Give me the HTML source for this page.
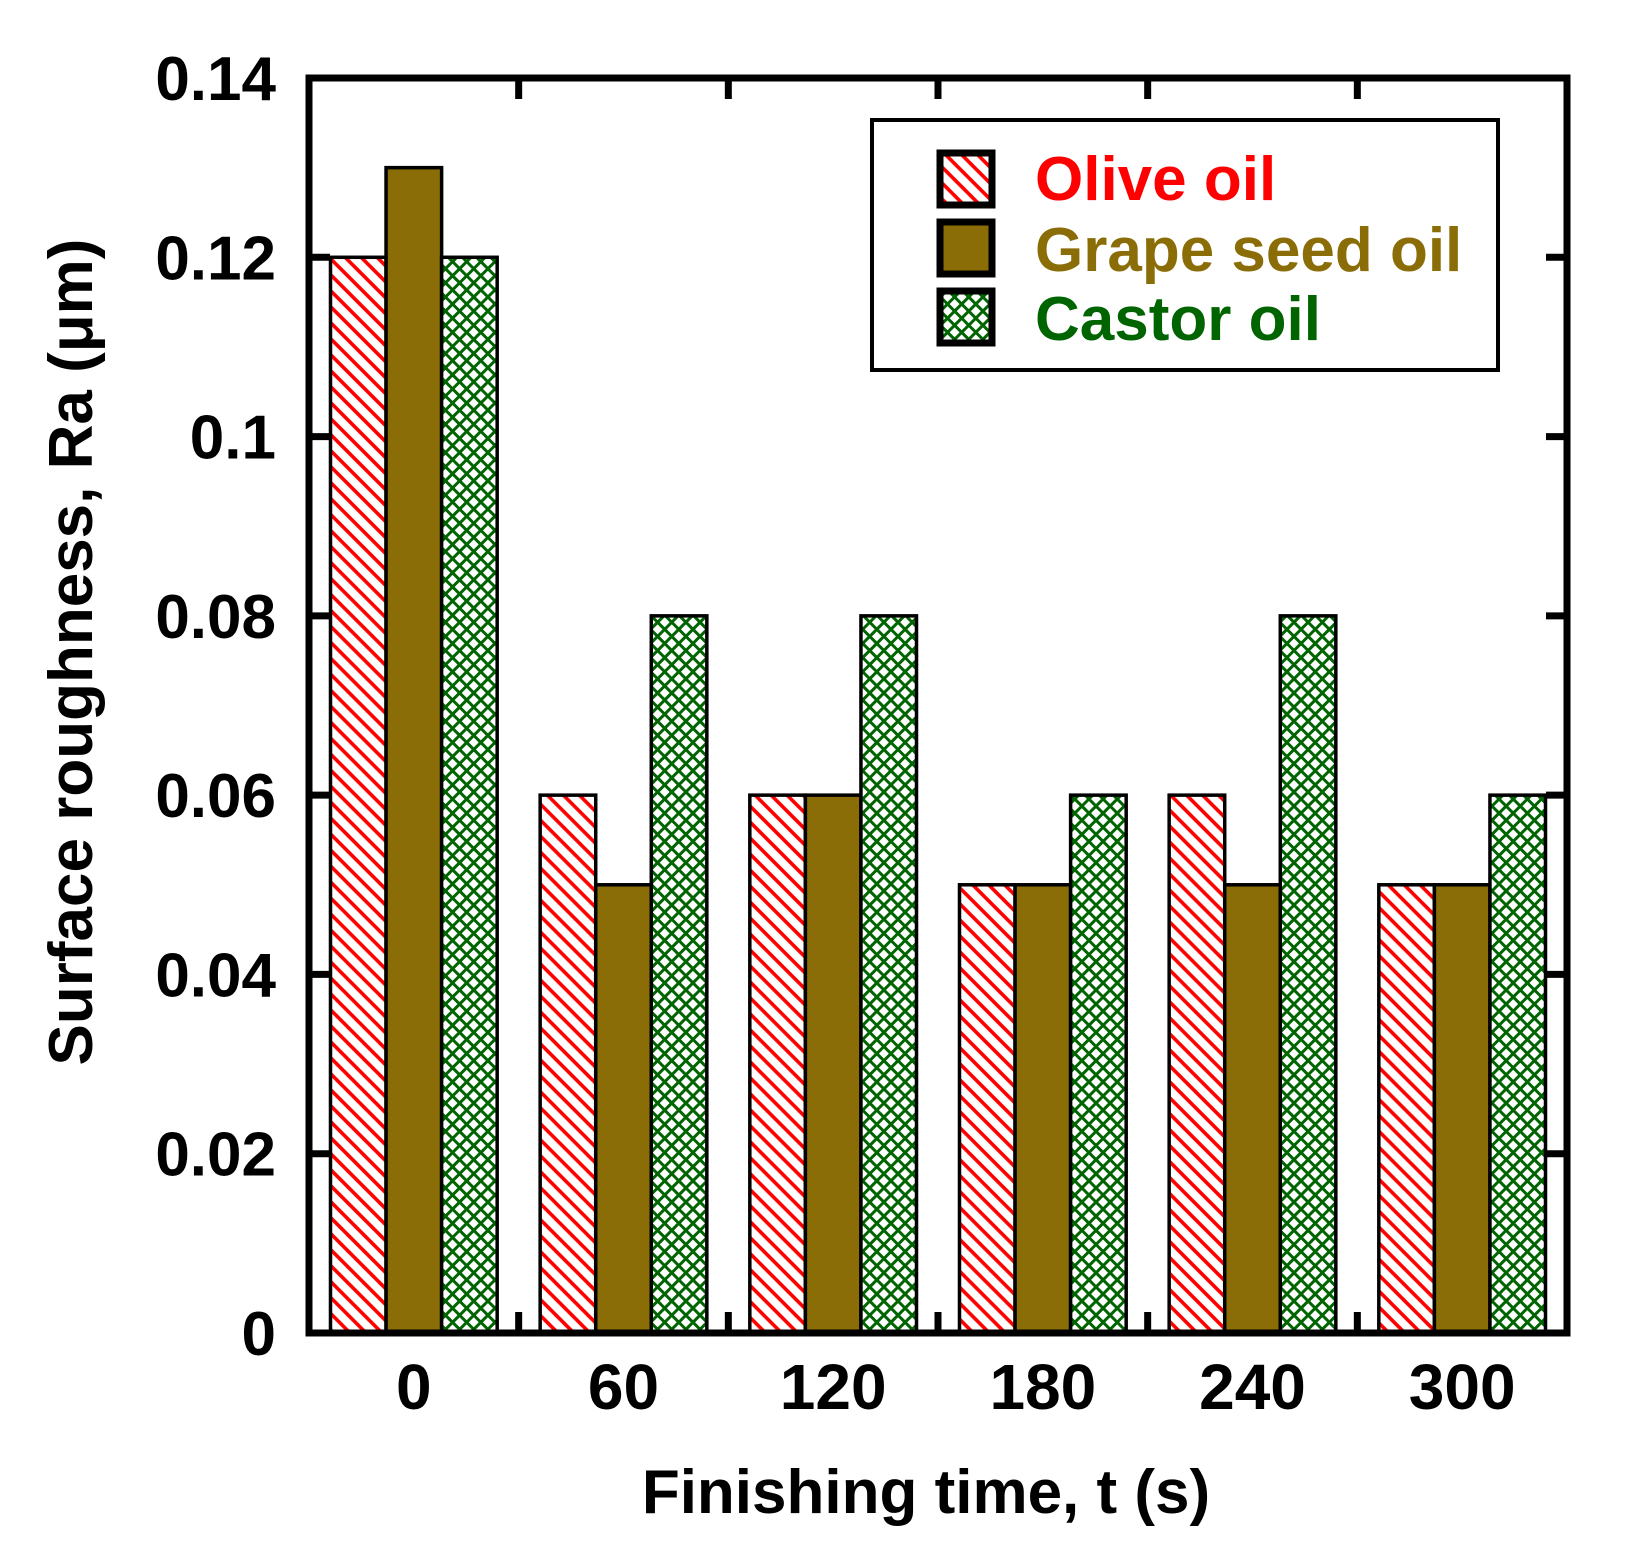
<!DOCTYPE html>
<html><head><meta charset="utf-8"><style>
html,body{margin:0;padding:0;background:#fff}
svg{display:block}
text{font-family:"Liberation Sans",Arial,sans-serif;font-weight:bold}
</style></head>
<body>
<svg id="chart" width="1630" height="1542" viewBox="0 0 1630 1542" xmlns="http://www.w3.org/2000/svg">
<defs>
<pattern id="pRed" patternUnits="userSpaceOnUse" width="11.3" height="11.3" patternTransform="rotate(-45)">
<rect width="11.3" height="11.3" fill="#fff"/>
<line x1="5.6" y1="0" x2="5.6" y2="11.3" stroke="#ff0000" stroke-width="3.6"/>
</pattern>
<pattern id="pGreen" patternUnits="userSpaceOnUse" width="10" height="10" patternTransform="rotate(45)">
<rect width="10" height="10" fill="#fff"/>
<line x1="5" y1="0" x2="5" y2="10" stroke="#006400" stroke-width="3"/>
<line x1="0" y1="5" x2="10" y2="5" stroke="#006400" stroke-width="3"/>
</pattern>
</defs>
<g id="bars"></g>
<g id="axes"></g>
<g id="legend">
<rect x="872" y="120" width="626" height="250" fill="#fff" stroke="#000" stroke-width="4"/>
<rect x="940" y="153" width="52" height="52" fill="url(#pRed)" stroke="#000" stroke-width="7"/>
<rect x="940" y="222" width="52" height="52" fill="#8a6d06" stroke="#000" stroke-width="7"/>
<rect x="940" y="291" width="52" height="52" fill="url(#pGreen)" stroke="#000" stroke-width="7"/>
<text x="1035" y="200" font-size="62" fill="#ff0000">Olive oil</text>
<text x="1035" y="271" font-size="62" fill="#8a6d06">Grape seed oil</text>
<text x="1035" y="340" font-size="62" fill="#006400">Castor oil</text>
</g>
<text x="926" y="1513" font-size="62" text-anchor="middle">Finishing time, t (s)</text>
<text transform="translate(92,652) rotate(-90)" font-size="62" text-anchor="middle">Surface roughness, Ra (μm)</text>
</svg>
<script>
const categories = ["0","60","120","180","240","300"];
const olive = [0.12, 0.06, 0.06, 0.05, 0.06, 0.05];
const grape = [0.13, 0.05, 0.06, 0.05, 0.05, 0.05];
const castor = [0.12, 0.08, 0.08, 0.06, 0.08, 0.06];
const yTicks = [0, 0.02, 0.04, 0.06, 0.08, 0.1, 0.12, 0.14];
const yTickLabels = ["0","0.02","0.04","0.06","0.08","0.1","0.12","0.14"];

const NS = "http://www.w3.org/2000/svg";
const L = 309, R = 1567, T = 78, B = 1333, YMAX = 0.14;
const catW = (R - L) / categories.length;
const barW = catW * 0.265;
function y(v){ return B - v / YMAX * (B - T); }
function xc(i){ return L + (i + 0.5) * catW; }
function mk(tag, attrs, parent){ const e = document.createElementNS(NS, tag); for (const k in attrs) e.setAttribute(k, attrs[k]); parent.appendChild(e); return e; }

const bars = document.getElementById('bars');
const series = [[olive, 'url(#pRed)', 'olive'], [grape, '#8a6d06', 'grape'], [castor, 'url(#pGreen)', 'castor']];
categories.forEach((c, i) => {
  series.forEach((s, j) => {
    const x0 = xc(i) + (j - 1.5) * barW;
    const r = mk('rect', {x: x0, y: y(s[0][i]), width: barW, height: B - y(s[0][i]), fill: s[1], stroke: '#000', 'stroke-width': 3.5}, bars);
    
    
  });
});

const axes = document.getElementById('axes');
const frame = mk('rect', {x: L, y: T, width: R - L, height: B - T, fill: 'none', stroke: '#000', 'stroke-width': 7}, axes);


yTicks.forEach((v, k) => {
  const yy = y(v);
  const t1 = mk('line', {x1: L, x2: L + 21, y1: yy, y2: yy, stroke: '#000', 'stroke-width': 7}, axes);
  
  
  const t2 = mk('line', {x1: R - 21, x2: R, y1: yy, y2: yy, stroke: '#000', 'stroke-width': 7}, axes);
  
  
  const lb = mk('text', {x: 276, y: yy + 22, 'font-size': 62, 'text-anchor': 'end'}, axes);
  lb.textContent = yTickLabels[k];
  
  
});
for (let i = 1; i < categories.length; i++) {
  const xx = L + i * catW;
  const t1 = mk('line', {x1: xx, x2: xx, y1: B, y2: B - 21, stroke: '#000', 'stroke-width': 7}, axes);
  
  
  const t2 = mk('line', {x1: xx, x2: xx, y1: T, y2: T + 21, stroke: '#000', 'stroke-width': 7}, axes);
  
  
}
categories.forEach((c, i) => {
  const lb = mk('text', {x: xc(i), y: 1409, 'font-size': 64, 'text-anchor': 'middle'}, axes);
  lb.textContent = c;
  
  
});
</script>
</body></html>
